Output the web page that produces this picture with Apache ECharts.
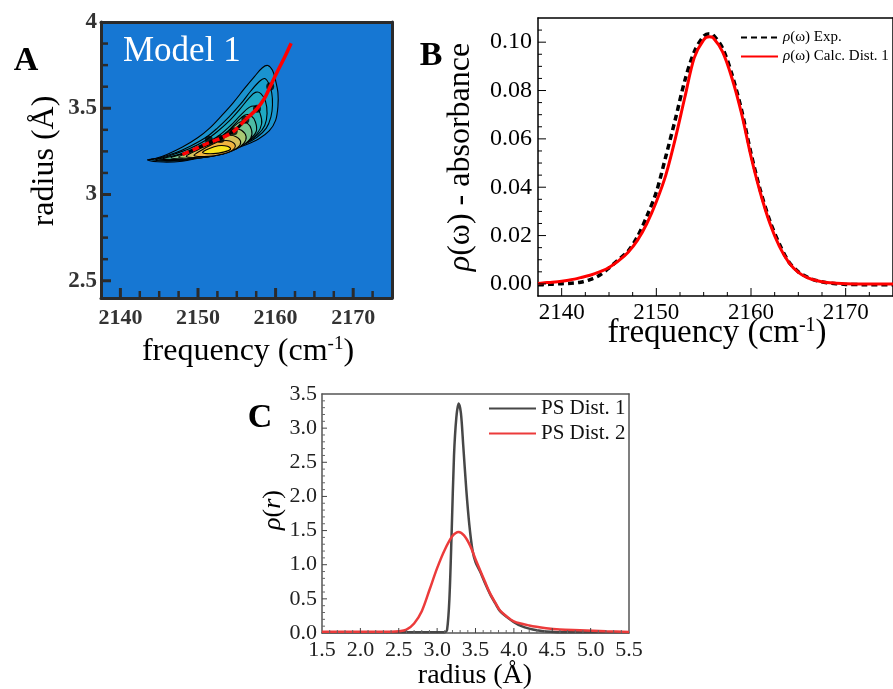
<!DOCTYPE html>
<html><head><meta charset="utf-8">
<script src="https://cdn.jsdelivr.net/npm/echarts@6/dist/echarts.min.js"></script>
<style>html,body{margin:0;padding:0;background:#fff}#c{width:893px;height:689px}</style>
</head><body><div id="c"></div>
<script>
// ---------- Panel A data ----------
const freqTicks = [2140, 2150, 2160, 2170];
const radiusTicksA = [2.5, 3, 3.5];
const contour1 = [[2143.5,3.200],[2145.5,3.188],[2148,3.193],[2150,3.210],[2152,3.228],[2154,3.252],[2156,3.285],[2157.8,3.322],[2159.2,3.370],[2160.0,3.430],[2160.3,3.510],[2160.3,3.590],[2160.0,3.660],[2159.6,3.720],[2159.0,3.748],[2158.3,3.735],[2157.3,3.685],[2156.0,3.615],[2154.5,3.530],[2153.0,3.455],[2151.5,3.385],[2150.0,3.330],[2148.0,3.275],[2146.0,3.232],[2144.5,3.208]];
const contour2 = [[2144.0,3.203],[2146,3.193],[2148,3.197],[2150,3.214],[2152,3.234],[2154,3.260],[2156,3.292],[2157.6,3.332],[2158.8,3.385],[2159.4,3.450],[2159.6,3.520],[2159.5,3.590],[2159.1,3.645],[2158.6,3.672],[2157.9,3.655],[2156.8,3.600],[2155.5,3.525],[2154.0,3.450],[2152.5,3.385],[2151.0,3.330],[2149.0,3.280],[2147.0,3.240],[2145.0,3.212]];
const contour3 = [[2144.5,3.205],[2146.5,3.197],[2148.5,3.201],[2150.5,3.219],[2152.5,3.241],[2154.5,3.268],[2156.3,3.302],[2157.7,3.347],[2158.6,3.400],[2158.9,3.470],[2158.7,3.540],[2158.1,3.585],[2157.4,3.592],[2156.6,3.560],[2155.4,3.495],[2154.0,3.425],[2152.5,3.365],[2151.0,3.315],[2149.0,3.268],[2147.0,3.235],[2145.5,3.213]];
const contour4 = [[2145.0,3.207],[2147,3.200],[2149,3.206],[2151,3.223],[2153,3.246],[2154.8,3.273],[2156.4,3.307],[2157.6,3.352],[2158.2,3.410],[2158.0,3.470],[2157.4,3.510],[2156.6,3.505],[2155.5,3.460],[2154.2,3.400],[2152.8,3.345],[2151.2,3.300],[2149.5,3.262],[2147.5,3.232],[2146,3.214]];
const contour5 = [[2145.5,3.209],[2147.5,3.203],[2149.5,3.209],[2151.5,3.226],[2153.5,3.251],[2155.2,3.280],[2156.6,3.317],[2157.5,3.365],[2157.4,3.420],[2156.8,3.458],[2156.0,3.460],[2155.0,3.420],[2153.8,3.365],[2152.4,3.318],[2150.8,3.280],[2149,3.250],[2147.2,3.226]];
const contour6 = [[2146.5,3.212],[2148.5,3.207],[2150.5,3.213],[2152.5,3.231],[2154.3,3.256],[2155.8,3.287],[2156.8,3.327],[2156.9,3.375],[2156.3,3.415],[2155.4,3.420],[2154.4,3.385],[2153.2,3.340],[2151.8,3.300],[2150.2,3.268],[2148.3,3.238]];
const contour7 = [[2147.5,3.216],[2149.5,3.211],[2151.5,3.219],[2153.3,3.237],[2154.9,3.263],[2155.9,3.296],[2156.2,3.335],[2155.6,3.372],[2154.7,3.380],[2153.7,3.350],[2152.5,3.315],[2151.0,3.283],[2149.3,3.252]];
const contour8 = [[2148.5,3.220],[2150.5,3.216],[2152.3,3.226],[2153.9,3.244],[2155.1,3.271],[2155.5,3.305],[2154.9,3.335],[2153.9,3.342],[2152.8,3.315],[2151.5,3.290],[2150,3.260]];
const contour9 = [[2149.5,3.225],[2151.3,3.221],[2153.0,3.233],[2154.4,3.256],[2154.8,3.285],[2154.1,3.310],[2153.0,3.310],[2151.8,3.290],[2150.5,3.258]];
const contour10 = [[2150.6,3.243],[2152.0,3.237],[2153.4,3.247],[2154.2,3.263],[2153.8,3.280],[2152.6,3.283],[2151.4,3.265]];
const contourColors = ['#1a93cf','#169ecb','#1fa9c3','#2db3b6','#4dbca4','#78c390','#a9c874','#d5c05a','#f0b440','#f8e41e'];
const ridgeDashedF = [2148.0, 2149.5, 2151.4, 2152.9, 2154.6, 2156.1];
const ridgeDashedR = [3.232, 3.262, 3.300, 3.325, 3.366, 3.434];
const ridgeSolidF = [2156.1, 2157.6, 2158.6, 2159.3, 2160.2, 2161.1, 2162.0];
const ridgeSolidR = [3.434, 3.497, 3.560, 3.626, 3.710, 3.790, 3.877];
const dotF = [2151.4, 2152.9, 2154.6, 2156.1, 2157.6, 2159.3];
const dotR = [3.318, 3.322, 3.366, 3.434, 3.497, 3.626];

// ---------- Panel B data ----------
const absTicks = [0, 0.02, 0.04, 0.06, 0.08, 0.10];
const bFreq = [2137.5,2138,2139,2140,2141,2142,2143,2144,2145,2146,2147,2148,2149,2150,2151,2152,2153,2154,2155,2155.6,2156,2157,2158,2159,2160,2161,2162,2163,2164,2165,2166,2167,2168,2169,2170,2172,2175];
const expAbs = [-0.0003,-0.0003,-0.0001,0.0001,0.0003,0.0007,0.0018,0.0036,0.0066,0.0100,0.0135,0.0195,0.0280,0.0380,0.0527,0.0680,0.0840,0.0960,0.1025,0.1035,0.1030,0.0975,0.0865,0.0720,0.0540,0.0385,0.0260,0.0165,0.0091,0.0050,0.0027,0.0013,0.0005,0.0001,-0.0002,-0.0003,-0.0003];
const calcAbs = [0.0002,0.0004,0.0007,0.0011,0.0017,0.0026,0.0036,0.0050,0.0068,0.0095,0.0130,0.0180,0.0250,0.0340,0.0450,0.0600,0.0770,0.0935,0.1010,0.1022,0.1018,0.0960,0.0850,0.0705,0.0527,0.0375,0.0250,0.0155,0.0088,0.0048,0.0025,0.0013,0.0006,0.0003,0.0001,0.0000,0.0000];

// ---------- Panel C data ----------
const radiusTicksC = [2.0, 2.5, 3.0, 3.5, 4.0, 4.5, 5.0];
const densityTicks = [0.5, 1.0, 1.5, 2.0, 2.5, 3.0];
const d1R = [1.5,2.5,3.0,3.10,3.13,3.16,3.19,3.22,3.25,3.28,3.31,3.34,3.38,3.42,3.46,3.50,3.56,3.62,3.69,3.76,3.82,3.90,4.00,4.10,4.20,4.30,4.42,4.60,5.5];
const d1V = [0.01,0.01,0.01,0.01,0.05,0.5,1.5,2.6,3.15,3.36,3.22,2.75,2.1,1.58,1.22,1.04,0.90,0.74,0.57,0.43,0.32,0.24,0.16,0.10,0.064,0.04,0.022,0.01,0.01];
const d2R = [1.5,2.4,2.5,2.6,2.7,2.8,2.9,3.0,3.1,3.2,3.28,3.35,3.43,3.5,3.56,3.62,3.69,3.76,3.82,3.9,4.0,4.2,4.42,4.6,4.86,5.2,5.5];
const d2V = [0.02,0.02,0.025,0.05,0.14,0.32,0.63,0.95,1.22,1.42,1.48,1.43,1.28,1.08,0.92,0.76,0.58,0.44,0.33,0.25,0.17,0.11,0.07,0.05,0.04,0.025,0.015];

const SERIF = 'Liberation Serif';
const zip = (a, b) => a.map((v, i) => [v, b[i]]);
// minor tick positions: evenly spaced steps inside [lo, hi], skipping majors
function steps(lo, hi, step, majors) {
  const out = [];
  const n = Math.round((hi - lo) / step);
  for (let i = 1; i < n; i++) {
    const v = +(lo + i * step).toFixed(6);
    if (!majors.some(m => Math.abs(m - v) < step / 10)) out.push(v);
  }
  return out;
}

function contourSeries(points, color) {
  return {
    type: 'custom', xAxisIndex: 0, yAxisIndex: 0, silent: true, clip: true,
    data: points,
    renderItem: function (params, api) {
      if (params.dataIndex !== 0) return null;
      const pts = points.map(p => api.coord(p));
      return { type: 'polygon', shape: { points: pts, smooth: 0.35 },
        style: { fill: color, stroke: '#000', lineWidth: 1.1 } };
    }
  };
}
const contours = [contour1, contour2, contour3, contour4, contour5, contour6, contour7, contour8, contour9, contour10];

// inside tick marks of one panel, positioned through the panel's axes
function tickLayer(xi, yi, anchor, xEdge, yEdge, specs) {
  return {
    type: 'custom', xAxisIndex: xi, yAxisIndex: yi, silent: true, clip: false, z: 10,
    data: [anchor],
    renderItem: function (params, api) {
      if (params.dataIndex !== 0) return null;
      const children = [];
      specs.forEach(s => {
        s.vals.forEach(v => {
          const p = s.axis === 'x' ? api.coord([v, yEdge]) : api.coord([xEdge, v]);
          const shape = s.axis === 'x'
            ? { x1: p[0], y1: p[1], x2: p[0], y2: p[1] - s.len }
            : { x1: p[0], y1: p[1], x2: p[0] + s.len, y2: p[1] };
          children.push({ type: 'line', shape: shape, style: { stroke: s.color, lineWidth: s.w } });
        });
      });
      return { type: 'group', children: children };
    }
  };
}

const line = (w, color) => ({ show: true, onZero: false, lineStyle: { color: color, width: w } });
const frameAxis = (grid, pos, min, max, w, color) => ({ type: 'value', gridIndex: grid, position: pos, min: min, max: max,
  axisLine: line(w, color), axisTick: { show: false }, axisLabel: { show: false }, splitLine: { show: false } });

const chart = echarts.init(document.getElementById('c'));
const option = {
  backgroundColor: '#fff',
  animation: false,
  grid: [
    { left: 101, top: 22, width: 291, height: 276, show: true, backgroundColor: '#1677d3', borderWidth: 0 },
    { left: 538, top: 18, width: 357, height: 278, show: false },
    { left: 322, top: 394, width: 307, height: 239, show: false }
  ],
  xAxis: [
    { type: 'value', gridIndex: 0, position: 'bottom', min: 2137.5, max: 2175, splitNumber: 4, z: 5,
      axisLine: line(3, '#2b2b2b'), splitLine: { show: false }, axisTick: { show: false },
      axisLabel: { showMinLabel: false, showMaxLabel: false, margin: 9, fontFamily: SERIF, fontWeight: 'bold', fontSize: 22, color: '#333', formatter: v => String(v) } },
    { type: 'value', gridIndex: 1, position: 'bottom', min: 2137.5, max: 2175, splitNumber: 4,
      axisLine: line(1.5, '#000'), splitLine: { show: false }, axisTick: { show: false },
      axisLabel: { showMinLabel: false, showMaxLabel: false, margin: 5, fontFamily: SERIF, fontSize: 23, color: '#000', formatter: v => String(v) } },
    { type: 'value', gridIndex: 2, position: 'bottom', min: 1.5, max: 5.5, interval: 0.5,
      axisLine: line(1.5, '#555'), splitLine: { show: false }, axisTick: { show: false },
      axisLabel: { margin: 6, fontFamily: SERIF, fontSize: 22, color: '#222', formatter: v => v.toFixed(1) } },
    frameAxis(0, 'top', 2137.5, 2175, 3, '#2b2b2b'),
    frameAxis(1, 'top', 2137.5, 2175, 1.5, '#000'),
    frameAxis(2, 'top', 1.5, 5.5, 1.5, '#555')
  ],
  yAxis: [
    { type: 'value', gridIndex: 0, position: 'left', min: 2.4, max: 4, splitNumber: 3, z: 5,
      axisLine: line(3, '#2b2b2b'), splitLine: { show: false }, axisTick: { show: false },
      axisLabel: { showMinLabel: false, margin: 4, fontFamily: SERIF, fontWeight: 'bold', fontSize: 23, color: '#333' } },
    { type: 'value', gridIndex: 1, position: 'left', min: -0.005, max: 0.11, splitNumber: 6,
      axisLine: line(1.5, '#000'), splitLine: { show: false }, axisTick: { show: false },
      axisLabel: { showMinLabel: false, showMaxLabel: false, margin: 6, fontFamily: SERIF, fontSize: 24, color: '#000', formatter: v => v.toFixed(2) } },
    { type: 'value', gridIndex: 2, position: 'left', min: 0, max: 3.5, interval: 0.5,
      axisLine: line(1.5, '#555'), splitLine: { show: false }, axisTick: { show: false },
      axisLabel: { margin: 5, fontFamily: SERIF, fontSize: 22, color: '#222', formatter: v => v.toFixed(1) } },
    frameAxis(0, 'right', 2.4, 4, 3, '#2b2b2b'),
    frameAxis(1, 'right', -0.005, 0.11, 1.5, '#000'),
    frameAxis(2, 'right', 0, 3.5, 1.5, '#555')
  ],
  legend: [
    { left: 740, top: 30, orient: 'vertical', padding: 0, itemGap: 4, itemWidth: 37, itemHeight: 14,
      itemStyle: { opacity: 0 },
      data: ['ρ(ω) Exp.', 'ρ(ω) Calc. Dist. 1'],
      formatter: n => n.replace('ρ', '{i|ρ}'),
      textStyle: { fontFamily: SERIF, fontSize: 15, color: '#000',
        rich: { i: { fontFamily: SERIF, fontSize: 15, fontStyle: 'italic', color: '#000' } } } },
    { left: 488, top: 398, orient: 'vertical', padding: 0, itemGap: 4, itemWidth: 47, itemHeight: 14,
      itemStyle: { opacity: 0 },
      data: ['PS Dist. 1', 'PS Dist. 2'],
      textStyle: { fontFamily: SERIF, fontSize: 21, color: '#111' } }
  ],
  series: [
    ...contours.map((c, i) => contourSeries(c, contourColors[i])),
    { type: 'line', xAxisIndex: 0, yAxisIndex: 0, data: zip(ridgeDashedF, ridgeDashedR), smooth: 0.3, symbol: 'none',
      lineStyle: { color: '#000', width: 3 }, silent: true },
    { type: 'line', xAxisIndex: 0, yAxisIndex: 0, data: zip(ridgeDashedF, ridgeDashedR), smooth: 0.3, symbol: 'none',
      lineStyle: { color: '#ff0000', width: 3.5, type: [7, 4] }, silent: true },
    { type: 'line', xAxisIndex: 0, yAxisIndex: 0, data: zip(ridgeSolidF, ridgeSolidR), smooth: 0.3, symbol: 'none',
      lineStyle: { color: '#ff0000', width: 3.5 }, silent: true },
    { type: 'scatter', xAxisIndex: 0, yAxisIndex: 0, data: zip(dotF, dotR), symbolSize: 8,
      itemStyle: { color: '#000' }, silent: true },
    { name: 'ρ(ω) Exp.', type: 'line', xAxisIndex: 1, yAxisIndex: 1, data: zip(bFreq, expAbs), smooth: 0.3, symbol: 'none',
      lineStyle: { color: '#000', width: 3.5, type: [6, 4] }, itemStyle: { color: '#000' } },
    { name: 'ρ(ω) Calc. Dist. 1', type: 'line', xAxisIndex: 1, yAxisIndex: 1, data: zip(bFreq, calcAbs), smooth: 0.3, symbol: 'none',
      lineStyle: { color: '#ff0000', width: 3 }, itemStyle: { color: '#ff0000' } },
    { name: 'PS Dist. 1', type: 'line', xAxisIndex: 2, yAxisIndex: 2, data: zip(d1R, d1V), smooth: 0.3, symbol: 'none',
      lineStyle: { color: '#474747', width: 2.5 }, itemStyle: { color: '#474747' } },
    { name: 'PS Dist. 2', type: 'line', xAxisIndex: 2, yAxisIndex: 2, data: zip(d2R, d2V), smooth: 0.3, symbol: 'none',
      lineStyle: { color: '#ec3b3b', width: 2.5 }, itemStyle: { color: '#ec3b3b' } },
    // tick marks (inside), one layer per panel
    tickLayer(0, 0, [2155, 3.2], 2137.5, 2.4, [
      { axis: 'x', vals: freqTicks, len: 10, w: 3, color: '#2b2b2b' },
      { axis: 'x', vals: steps(2137.5, 2175, 2.5, freqTicks), len: 7, w: 2.5, color: '#2b2b2b' },
      { axis: 'y', vals: radiusTicksA, len: 10, w: 3, color: '#2b2b2b' },
      { axis: 'y', vals: steps(2.375, 4, 0.125, radiusTicksA), len: 7, w: 2.5, color: '#2b2b2b' }
    ]),
    tickLayer(1, 1, [2155, 0.05], 2137.5, -0.005, [
      { axis: 'x', vals: freqTicks, len: 8, w: 1, color: '#000' },
      { axis: 'x', vals: steps(2137.5, 2175, 2.5, freqTicks), len: 4, w: 1, color: '#000' },
      { axis: 'y', vals: absTicks, len: 8, w: 1, color: '#000' },
      { axis: 'y', vals: steps(-0.005, 0.11, 0.005, absTicks), len: 4, w: 1, color: '#000' }
    ]),
    tickLayer(2, 2, [3.5, 1.75], 1.5, 0, [
      { axis: 'x', vals: radiusTicksC, len: 5, w: 1, color: '#444' },
      { axis: 'x', vals: steps(1.5, 5.5, 0.1, radiusTicksC), len: 3, w: 1, color: '#666' },
      { axis: 'y', vals: densityTicks, len: 5, w: 1, color: '#444' },
      { axis: 'y', vals: steps(0, 3.5, 0.1, densityTicks), len: 3, w: 1, color: '#666' }
    ])
  ],
  graphic: [
    { type: 'text', x: 26, y: 61, style: { text: 'A', font: 'bold 34px "Liberation Serif"', fill: '#000', align: 'center', verticalAlign: 'middle' } },
    { type: 'text', x: 123, y: 52, style: { text: 'Model 1', font: '35px "Liberation Serif"', fill: '#fff', align: 'left', verticalAlign: 'middle' } },
    { type: 'text', x: 431, y: 56, style: { text: 'B', font: 'bold 34px "Liberation Serif"', fill: '#000', align: 'center', verticalAlign: 'middle' } },
    { type: 'text', x: 260, y: 418, style: { text: 'C', font: 'bold 34px "Liberation Serif"', fill: '#000', align: 'center', verticalAlign: 'middle' } },
    { type: 'text', x: 45, y: 161, rotation: Math.PI / 2, style: { text: 'radius (Å)', font: '32px "Liberation Serif"', fill: '#000', align: 'center', verticalAlign: 'middle' } },
    { type: 'text', x: 248, y: 352, style: { text: '{a|frequency (cm}{s|-1}{a|)}', align: 'center', verticalAlign: 'middle',
      rich: { a: { fontSize: 32, fontFamily: SERIF, fill: '#000', lineHeight: 34 }, s: { fontSize: 19, fontFamily: SERIF, fill: '#000', lineHeight: 14, verticalAlign: 'top' } } } },
    { type: 'text', x: 461, y: 157, rotation: Math.PI / 2, style: { text: '{i|ρ}{a|(ω) - absorbance}', align: 'center', verticalAlign: 'middle',
      rich: { a: { fontSize: 32, fontFamily: SERIF, fill: '#000' }, i: { fontSize: 32, fontFamily: SERIF, fontStyle: 'italic', fill: '#000' } } } },
    { type: 'text', x: 717, y: 333, style: { text: '{a|frequency (cm}{s|-1}{a|)}', align: 'center', verticalAlign: 'middle',
      rich: { a: { fontSize: 33, fontFamily: SERIF, fill: '#000', lineHeight: 35 }, s: { fontSize: 20, fontFamily: SERIF, fill: '#000', lineHeight: 14, verticalAlign: 'top' } } } },
    { type: 'text', x: 273, y: 510, rotation: Math.PI / 2, style: { text: '{i|ρ}{a|(}{i|r}{a|)}', align: 'center', verticalAlign: 'middle',
      rich: { a: { fontSize: 26, fontFamily: SERIF, fill: '#000' }, i: { fontSize: 26, fontFamily: SERIF, fontStyle: 'italic', fill: '#000' } } } },
    { type: 'text', x: 475, y: 676, style: { text: 'radius (Å)', font: '28px "Liberation Serif"', fill: '#000', align: 'center', verticalAlign: 'middle' } }
  ]
};
chart.setOption(option);
</script>
</body></html>
